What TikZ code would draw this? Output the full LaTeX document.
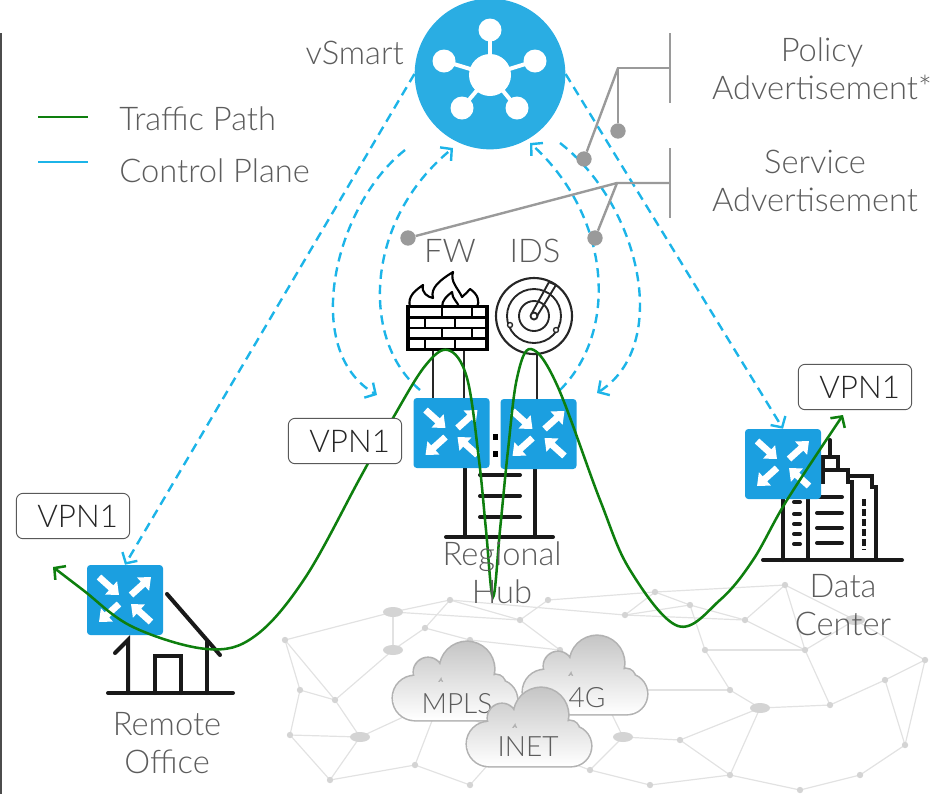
\documentclass[tikz,border=0pt]{standalone}
\usepackage{fontspec}
\IfFontExistsTF{Lato Light}{\setmainfont{Lato Light}}{\setmainfont{Lato}}
\usetikzlibrary{arrows.meta,calc,shapes.geometric}

\definecolor{smartblue}{HTML}{2AADE3}
\definecolor{edgeblue}{HTML}{1B9FE0}
\definecolor{ctrlblue}{HTML}{1CB4E8}
\definecolor{pathgreen}{HTML}{0E7F0E}
\definecolor{annot}{HTML}{9A9A9A}
\definecolor{txt}{HTML}{5C5C5C}
\definecolor{meshdot}{HTML}{D4D4D4}
\definecolor{meshline}{HTML}{E2E2E2}

\tikzset{
  lbl/.style={font=\fontsize{24.5}{28}\selectfont, text=txt, align=center, inner sep=0pt},
  cloudlbl/.style={font=\fontsize{21}{24}\selectfont, text=txt, inner sep=0pt},
  router/.style={fill=edgeblue, rounded corners=2.5pt, minimum width=57pt, minimum height=52.5pt, inner sep=0pt},
  glyph/.style={white, line width=5pt, -{Triangle[length=8pt,width=13pt]}},
  vpn/.style={draw=black!65, rounded corners=5pt, fill=white, minimum width=85pt, minimum height=34pt, inner sep=0pt, font=\fontsize{23.5}{28}\selectfont, text=black!85, line width=0.7pt},
  ctrl/.style={ctrlblue, line width=1.8pt, dash pattern=on 7pt off 4.5pt, -{Straight Barb[length=6pt,width=13pt]}},
  traffic/.style={pathgreen, line width=1.9pt, {Straight Barb[length=6pt,width=13pt]}-{Straight Barb[length=6pt,width=13pt]}},
  icon/.style={black!90, line width=3pt, line cap=round},
  thinicon/.style={black!85, line width=1.4pt},
  annotline/.style={annot, line width=1.8pt},
  annotdot/.style={circle, fill=annot, minimum size=11.5pt, inner sep=0pt},
}

% white arrows of the router symbol
\newcommand\routerglyph[1]{%
  \begin{scope}[shift={(#1)}]
    \draw[glyph] (-26,-23) -- (-6,-5);
    \draw[glyph] (26,22) -- (6,4);
    \draw[glyph] (6,-5) -- (26,-23);
    \draw[glyph] (-6,4) -- (-26,22);
  \end{scope}}

% cloud outline, #1 widens it for the border
\newcommand\cloudpath[1]{%
  (22,56) circle (22+#1) (35,30) circle (14+#1) (74,27) circle (27+#1)
  (103,42) circle (9+#1) (104,58) circle (20+#1)
  (22,40) -- (104,40) -- (104,78+#1) -- (22,78+#1) -- cycle}
\newcommand\netcloud[3]{%
  \begin{scope}[shift={(#1)}]
    \fill[gray!60] \cloudpath{1.6};
    \shade[top color=gray!45, bottom color=white] \cloudpath{0};
    \node[cloudlbl, anchor=base] at (#2) {#3};
  \end{scope}}

\begin{document}
\begin{tikzpicture}[x=0.75pt, y=-0.75pt]
\useasboundingbox (0,0) rectangle (937,794);

\draw[black!70, line width=1.4pt] (1,33) -- (1,794);

% underlay network
\foreach \i/\x/\y in {1/285/640, 2/300/690, 3/290/735, 4/335/700, 5/360/737, 6/393/612, 7/393/650, 8/425/628,
  9/450/600, 10/470/640, 11/440/700, 12/415/765, 13/470/785, 14/520/620, 15/548/600, 16/560/650, 17/600/690,
  18/590/770, 19/625/615, 20/623/737, 21/655/592, 22/690/605, 23/705/650, 24/730/690, 25/680/740, 26/745/620,
  27/760/708, 28/785/585, 29/805/650, 30/830/705, 31/855/620, 32/885/680, 33/905/745, 34/925/660, 35/860/775,
  36/650/785, 37/330/780, 38/730/775, 39/800/790, 40/510/740}
  \coordinate (m\i) at (\x,\y);
\foreach \a/\b in {1/2,1/6,2/4,2/3,3/5,4/5,4/7,5/11,6/7,6/9,7/8,8/9,8/10,9/14,10/11,10/16,11/12,12/13,13/40,
  11/40,14/15,14/16,15/21,16/17,17/20,17/24,18/20,18/36,19/21,19/22,20/25,21/22,22/26,22/23,23/24,24/27,25/27,
  26/28,27/30,28/31,29/31,29/30,30/32,31/34,32/34,32/33,33/35,35/39,38/39,25/38,36/38,37/5,37/12,3/37,6/14,
  9/19,23/29,26/29,27/38,16/40,40/18,1/4,19/26,28/29,21/28,34/33}
  \draw[meshline, line width=0.9pt] (m\a) -- (m\b);
\foreach \i in {1,...,40} \fill[meshdot] (m\i) circle (3.2);
\foreach \i in {5,6,7,20,27,31} \fill[meshdot] (m\i) ellipse (10 and 5);

% transport clouds
\netcloud{393,642}{64,71}{MPLS}
\netcloud{523,636}{64,71}{4G}
\netcloud{467,688}{61,68}{INET}

% remote office
\draw[icon] (108,693) -- (233,693);
\draw[icon] (115,653) -- (128,640) -- (128,693);
\draw[icon] (155,693) -- (155,656) -- (181,656) -- (181,693);
\draw[icon] (207,642) -- (207,693);
\draw[icon] (167,594) -- (220,655);

% regional hub
\draw[icon] (446,537) -- (553,537);
\draw[icon] (465,467) -- (465,537);
\draw[icon] (535,469) -- (535,537);
\foreach \y in {475,496,517} \draw[icon] (480,\y) -- (520,\y);
\fill[black] (493,434) rectangle (498,440);
\fill[black] (493,451) rectangle (498,457);

% data center
\draw[icon] (763,560) -- (902,560);
\draw[icon] (783,499) -- (783,560);
\draw[icon, line cap=butt] (808,560) -- (808,482) -- (823,482) -- (823,470) -- (848,470) -- (848,482) -- (852,482) -- (852,560);
\draw[icon, line cap=butt] (823,470) -- (823,457) -- (838,457) -- (838,470);
\draw[icon] (830,457) -- (830,440);
\draw[icon, line cap=butt] (848,476) -- (872,476) -- (872,487) -- (876,487) -- (876,560);
\foreach \y in {502,514,524,534,544} \draw[icon] (794,\y) -- (800,\y);
\foreach \y in {497,513,528,543} \draw[icon] (817,\y) -- (842,\y);
\draw[icon, line cap=butt, dash pattern=on 5pt off 2.5pt] (864,499) -- (864,550);

% firewall
\node[draw=black, line width=2.6pt, minimum width=59pt, minimum height=32pt, inner sep=0pt] (fw) at (447.5,328) {};
\foreach \y in {317.5,328,338.5} \draw[black, line width=2.2pt] (408,\y) -- (487,\y);
\foreach \x in {442,472} {
  \draw[black, line width=2.2pt] (\x,307) -- (\x,317.5);
  \draw[black, line width=2.2pt] (\x,328) -- (\x,338.5);}
\foreach \x in {425,455} {
  \draw[black, line width=2.2pt] (\x,317.5) -- (\x,328);
  \draw[black, line width=2.2pt] (\x,338.5) -- (\x,349);}
\draw[black, line width=1.6pt, line join=round] (410,307)
  .. controls (407,296) and (416,290) .. (423,285)
  .. controls (421,293) and (428,297) .. (433,298)
  .. controls (430,288) and (440,280) .. (453,272)
  .. controls (450,282) and (458,288) .. (462,297)
  .. controls (465,294) and (468,292) .. (470,289)
  .. controls (478,294) and (480,302) .. (477,307);
\draw[black, line width=1.6pt, line join=round] (442,307)
  .. controls (442,300) and (447,296) .. (452,292)
  .. controls (452,299) and (458,302) .. (459,307);

% intrusion detection
\node[circle, draw=black!85, line width=1.6pt, minimum size=57pt, inner sep=0pt] (ids) at (534,316) {};
\draw[thinicon] (ids.center) circle (27);
\draw[thinicon] (ids.center) circle (15);
\draw[thinicon] (ids.center) circle (3.5);
\draw[thinicon, line join=round] (532,313) -- (549,282) -- (556,285) -- (537,316);
\filldraw[thinicon, fill=white, line width=1pt] (510,325) circle (2.5) (556,330) circle (2.5);

% routers
\node[router] (ro) at (125,600) {};
\node[router] (hubL) at (451.5,433) {};
\node[router] (hubR) at (538.5,434) {};
\node[router] (dc) at (783,464) {};
\foreach \r in {ro,hubL,hubR,dc} \routerglyph{\r};

% service stems
\draw[thinicon] (fw.south) ++(-14.5,0) coordinate (fwA) -- (fwA |- hubL.north);
\draw[thinicon] (fw.south) ++(16.5,0) coordinate (fwB) -- (fwB |- hubL.north);
\draw[thinicon] (ids.south) ++(3,0) coordinate (idsA) -- (idsA |- hubR.north);

% vSmart
\node[circle, fill=smartblue, minimum size=113pt, inner sep=0pt] (vsmart) at (490,74) {};
\begin{scope}[shift={(vsmart)}]
  \foreach \x/\y in {0/-44, -46/-13, 45/-13, -28/34, 27/34} {
    \draw[white, line width=3pt] (0,1) -- (\x,\y);
    \fill[white] (\x,\y) circle (11.5);}
  \fill[white] (0,1) circle (21);
\end{scope}

% control plane
\coordinate (vsOutL) at (405,150);
\coordinate (hubLarr) at (377,395);
\coordinate (hubLst) at (420,390);
\coordinate (vsInL) at (453,148);
\coordinate (hubRst) at (560,390);
\coordinate (vsInR) at (530,143);
\coordinate (vsOutR) at (560,143);
\coordinate (hubRarr) at (597,393);
\draw[ctrl] (vsmart.west) -- (ro.north);
\draw[ctrl] (vsmart.east) -- (dc.north);
\draw[ctrl] (vsOutL) .. controls (335,205) and (300,350) .. (hubLarr);
\draw[ctrl] (hubLst) .. controls (360,340) and (365,220) .. (vsInL);
\draw[ctrl] (hubRst) .. controls (620,330) and (610,215) .. (vsInR);
\draw[ctrl] (vsOutR) .. controls (640,205) and (672,345) .. (hubRarr);

% advertisement callouts
\coordinate (polJoin) at (618,68);
\coordinate (svcJoin) at (617,183);
\draw[annotline] (670,33) -- (670,103);
\draw[annotline] (670,148) -- (670,218);
\node[annotdot] (polDotA) at (618,131) {};
\node[annotdot] (polDotB) at (584,159) {};
\node[annotdot] (svcDotA) at (408,238) {};
\node[annotdot] (svcDotB) at (595,238) {};
\draw[annotline] (670,68) -- (polJoin) -- (polDotA);
\draw[annotline] (polJoin) -- (polDotB);
\draw[annotline] (670,183) -- (svcJoin) -- (svcDotA);
\draw[annotline] (svcJoin) -- (svcDotB);

% traffic path
\coordinate (trafA) at (53,567);
\coordinate (trafB) at (843,415);
\draw[traffic] plot[smooth, tension=0.6] coordinates {(trafA) (83,590) (133,627) (207,649) (255,636)
  (305,578) (360,478) (393,418) (425,366) (448,350) (467,378) (479,460) (486,530) (493,597) (500,530)
  (508,450) (517,378) (531,349) (557,385) (600,500) (630,570) (678,626) (720,600) (753,560) (787,500) (trafB)};

% VPN tags
\node[vpn] (vpnRo) at (73,516) {\hspace*{7pt}VPN1};
\node[vpn] (vpnHub) at (345,441) {\hspace*{7pt}VPN1};
\node[vpn] (vpnDc) at (855,387) {\hspace*{7pt}VPN1};

% legend
\draw[pathgreen, line width=1.6pt] (38,117) -- (88,117);
\draw[ctrlblue, line width=1.6pt] (38,162) -- (88,162);
\node[lbl, anchor=base west] at (119,130) {Traffic Path};
\node[lbl, anchor=base west] at (119,182) {Control Plane};

% labels (base = last line)
\node[lbl, anchor=base east] at (404,64) {vSmart};
\node[lbl, anchor=base] at (822,99) {Policy\\Advertisement*};
\node[lbl, anchor=base] at (815,211) {Service\\Advertisement};
\node[lbl, anchor=base] at (450,262) {FW};
\node[lbl, anchor=base] at (535,262) {IDS};
\node[lbl, anchor=base] at (167,773) {Remote\\Office};
\node[lbl, anchor=base] at (502,603) {Regional\\Hub};
\node[lbl, anchor=base] at (843,635) {Data\\Center};
\end{tikzpicture}
\end{document}
